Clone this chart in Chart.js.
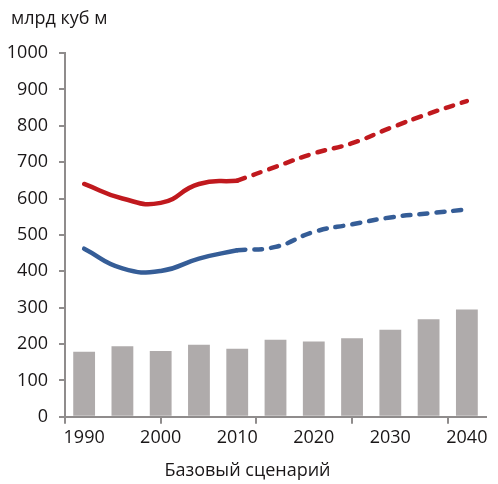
<!DOCTYPE html>
<html>
<head>
<meta charset="utf-8">
<script src="https://cdn.jsdelivr.net/npm/chart.js@4.4.1/dist/chart.umd.min.js"></script>
<style>
  html, body { margin: 0; padding: 0; background: #ffffff; }
  #wrap { width: 498px; height: 484px; position: relative; }
</style>
</head>
<body>
<div id="wrap"><canvas id="c" width="498" height="484"></canvas></div>
<script>
// ---- data ----
const years = ['1990','1995','2000','2005','2010','2015','2020','2025','2030','2035','2040'];
const barValues = [179, 194, 181, 198, 187, 212, 207, 216, 239, 268, 295];
const redHistory  = [640, 600, 588, 640, 649, null, null, null, null, null, null];
const redForecast = [null, null, null, null, 649, 687, 724, 752, 794, 833, 868];
const blueHistory  = [462, 408, 401, 435, 458, null, null, null, null, null, null];
const blueForecast = [null, null, null, null, 458, 467, 508, 529, 548, 559, 570];
const xTickLabels = ['1990', '', '2000', '', '2010', '', '2020', '', '2030', '', '2040'];
const xTickMarks = [0, 2.5, 5, 7.5, 10];
const yTicks = [0, 100, 200, 300, 400, 500, 600, 700, 800, 900, 1000];
const unitLabel = 'млрд куб м';
const xTitle = 'Базовый сценарий';

const FONT = "'Open Sans', 'Noto Sans', sans-serif";
const AXIS = '#8f8c8c';
const TEXT = '#1a1718';
const RED = '#c0191e';
const BLUE = '#355d97';

const unitPlugin = {
  id: 'unitLabel',
  afterDraw(chart) {
    const ctx = chart.ctx;
    ctx.save();
    ctx.font = '18px ' + FONT;
    ctx.fillStyle = TEXT;
    ctx.textBaseline = 'middle';
    ctx.textAlign = 'left';
    ctx.fillText(unitLabel, 11, 19);
    ctx.restore();
  }
};

function lineSet(data, color, dashed) {
  return {
    type: 'line', data, borderColor: color, borderWidth: 4.5,
    borderCapStyle: 'round', borderJoinStyle: 'round', pointRadius: 0,
    tension: 0.5, fill: false, order: 1, spanGaps: false,
    borderDash: dashed ? [8, 9] : [],
    xAxisID: 'x', yAxisID: 'y'
  };
}

new Chart(document.getElementById('c'), {
  data: {
    labels: years,
    datasets: [
      lineSet(redHistory, RED, false),
      lineSet(redForecast, RED, true),
      lineSet(blueHistory, BLUE, false),
      lineSet(blueForecast, BLUE, true),
      {
        type: 'bar', data: barValues, backgroundColor: '#afabab',
        categoryPercentage: 1, barPercentage: 0.57, order: 2,
        xAxisID: 'x', yAxisID: 'y'
      }
    ]
  },
  options: {
    responsive: false,
    animation: false,
    layout: { padding: { top: 53, left: 0, right: 3, bottom: 0 } },
    plugins: {
      legend: { display: false },
      tooltip: { enabled: false },
      title: {
        display: true, position: 'bottom', text: xTitle, color: TEXT,
        font: { family: FONT, size: 18, weight: 'normal' },
        padding: { top: 2, bottom: 2 }
      }
    },
    scales: {
      xt: {
        type: 'linear', position: 'bottom', min: 0, max: 11, weight: 0,
        afterBuildTicks: s => { s.ticks = xTickMarks.map(v => ({ value: v })); },
        afterFit: s => { s.height = 0; },
        ticks: { display: false },
        grid: { drawOnChartArea: false, drawTicks: true, tickLength: 7, color: AXIS, lineWidth: 2 },
        border: { display: true, color: AXIS, width: 2 }
      },
      x: {
        type: 'category', position: 'bottom', weight: 1,
        grid: { display: false, drawTicks: false },
        border: { display: false },
        ticks: {
          autoSkip: false, maxRotation: 0, minRotation: 0, padding: 10,
          color: TEXT, font: { family: FONT, size: 18 },
          callback: (v, i) => xTickLabels[i]
        }
      },
      y: {
        type: 'linear', min: 0, max: 1000,
        afterBuildTicks: s => { s.ticks = yTicks.map(v => ({ value: v })); },
        afterFit: s => { s.width = 65; },
        grid: { drawOnChartArea: false, drawTicks: true, tickLength: 6, color: AXIS, lineWidth: 2 },
        border: { display: true, color: AXIS, width: 2 },
        ticks: { color: TEXT, padding: 11, font: { family: FONT, size: 18 }, callback: v => String(v) }
      }
    }
  },
  plugins: [unitPlugin]
});
</script>
</body>
</html>
